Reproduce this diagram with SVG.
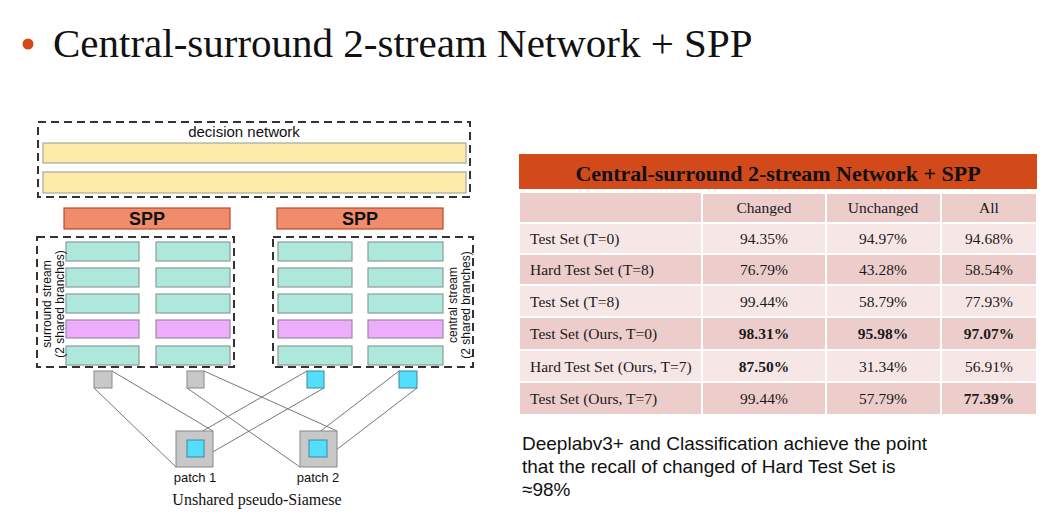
<svg xmlns="http://www.w3.org/2000/svg" width="1054" height="517" viewBox="0 0 1054 517">
  <style>
    .dash { fill: none; stroke: #333; stroke-width: 2; stroke-dasharray: 8 5; }
    .yel { fill: #FDEBA9; stroke: #A8A8A0; stroke-width: 1.2; }
    .spp { fill: #EF8C6B; stroke: #B84A26; stroke-width: 1.2; }
    .grn { fill: #AEE8DC; stroke: #8E9C98; stroke-width: 1.2; }
    .pur { fill: #EDADFC; stroke: #9A8AA0; stroke-width: 1.2; }
    .gry { fill: #C8C8C8; stroke: #888; stroke-width: 1; }
    .cyn { fill: #55DDFC; stroke: #3A8AA0; stroke-width: 1; }
    .sans { font-family: "Liberation Sans", Arial, sans-serif; fill: #111; }
    .serif { font-family: "Liberation Serif", "Times New Roman", serif; fill: #111; }
    .cap { font-size: 12px; }
    .link { stroke: #777; stroke-width: 1; fill: none; }
    .dk { fill: #EDCDCB; }
    .lt { fill: #F6E7E6; }
    .cell { font-family: "Liberation Serif", "Times New Roman", serif; font-size: 15.5px; fill: #1a1a1a; }
    .num { text-anchor: middle; }
    .b { font-weight: bold; }
  </style>

  <rect width="1054" height="517" fill="#ffffff"/>

  <!-- slide title -->
  <g id="title">
    <circle cx="28" cy="44" r="5.5" fill="#D24A1A"/>
    <text x="53" y="57" class="serif" font-size="41">Central-surround 2-stream Network + SPP</text>
  </g>

  <!-- decision network -->
  <g id="decision-network">
    <rect x="38" y="122" width="432" height="75" class="dash"/>
    <text x="244" y="137" class="sans" font-size="15" text-anchor="middle">decision network</text>
    <rect x="43" y="143" width="423" height="20" class="yel"/>
    <rect x="43" y="172" width="423" height="21" class="yel"/>
  </g>

  <!-- SPP layers -->
  <g id="spp-left">
    <rect x="64" y="208" width="166" height="21" class="spp"/>
    <text x="147" y="225" class="sans b" font-size="18" text-anchor="middle">SPP</text>
  </g>
  <g id="spp-right">
    <rect x="277" y="208" width="166" height="21" class="spp"/>
    <text x="360" y="225" class="sans b" font-size="18" text-anchor="middle">SPP</text>
  </g>

  <!-- surround stream -->
  <g id="surround-stream">
    <rect x="37" y="237" width="197" height="130" class="dash"/>
    <rect x="66" y="242" width="73" height="19" class="grn"/>
    <rect x="66" y="268" width="73" height="19" class="grn"/>
    <rect x="66" y="294" width="73" height="19" class="grn"/>
    <rect x="66" y="320" width="73" height="18" class="pur"/>
    <rect x="66" y="346" width="73" height="19" class="grn"/>
    <rect x="156" y="242" width="74" height="19" class="grn"/>
    <rect x="156" y="268" width="74" height="19" class="grn"/>
    <rect x="156" y="294" width="74" height="19" class="grn"/>
    <rect x="156" y="320" width="74" height="18" class="pur"/>
    <rect x="156" y="346" width="74" height="19" class="grn"/>
    <text transform="translate(51,304) rotate(-90)" class="sans cap" text-anchor="middle">surround stream</text>
    <text transform="translate(64,304) rotate(-90)" class="sans cap" text-anchor="middle">(2 shared branches)</text>
  </g>

  <!-- central stream -->
  <g id="central-stream">
    <rect x="273" y="237" width="200" height="130" class="dash"/>
    <rect x="278" y="242" width="74" height="19" class="grn"/>
    <rect x="278" y="268" width="74" height="19" class="grn"/>
    <rect x="278" y="294" width="74" height="19" class="grn"/>
    <rect x="278" y="320" width="74" height="18" class="pur"/>
    <rect x="278" y="346" width="74" height="19" class="grn"/>
    <rect x="368" y="242" width="75" height="19" class="grn"/>
    <rect x="368" y="268" width="75" height="19" class="grn"/>
    <rect x="368" y="294" width="75" height="19" class="grn"/>
    <rect x="368" y="320" width="75" height="18" class="pur"/>
    <rect x="368" y="346" width="75" height="19" class="grn"/>
    <text transform="translate(457,305) rotate(-90)" class="sans cap" text-anchor="middle">central stream</text>
    <text transform="translate(470,305) rotate(-90)" class="sans cap" text-anchor="middle">(2 shared branches)</text>
  </g>

  <!-- projections from patches to stream inputs -->
  <g id="connectors">
    <line x1="94" y1="388" x2="176" y2="467" class="link"/>
    <line x1="112" y1="371" x2="213" y2="431" class="link"/>
    <line x1="187" y1="388" x2="300" y2="467" class="link"/>
    <line x1="204" y1="371" x2="337" y2="431" class="link"/>
    <line x1="307" y1="371" x2="187" y2="440" class="link"/>
    <line x1="324" y1="388" x2="204" y2="457" class="link"/>
    <line x1="399" y1="371" x2="309" y2="440" class="link"/>
    <line x1="417" y1="388" x2="327" y2="457" class="link"/>
  </g>

  <!-- stream inputs -->
  <g id="input-surround-1"><rect x="94" y="371" width="18" height="17" class="gry"/></g>
  <g id="input-surround-2"><rect x="187" y="371" width="17" height="17" class="gry"/></g>
  <g id="input-central-1"><rect x="307" y="371" width="17" height="17" class="cyn"/></g>
  <g id="input-central-2"><rect x="399" y="371" width="18" height="17" class="cyn"/></g>

  <!-- patches -->
  <g id="patch-1">
    <rect x="176" y="431" width="37" height="36" class="gry"/>
    <rect x="187" y="440" width="17" height="17" class="cyn"/>
    <text x="195" y="482" class="sans" font-size="13" text-anchor="middle">patch 1</text>
  </g>
  <g id="patch-2">
    <rect x="300" y="431" width="37" height="36" class="gry"/>
    <rect x="309" y="440" width="18" height="17" class="cyn"/>
    <text x="318" y="482" class="sans" font-size="13" text-anchor="middle">patch 2</text>
  </g>
  <text x="257" y="505" class="serif" font-size="16" text-anchor="middle">Unshared pseudo-Siamese</text>

  <!-- results table -->
  <g id="results-table">
    <rect x="519" y="154" width="518" height="35" fill="#D24A1A"/>
    <text x="778" y="181" class="serif b" font-size="22" text-anchor="middle">Central-surround 2-stream Network + SPP</text>

    <g stroke="#ffffff" stroke-width="2">
      <rect x="519" y="192" width="183" height="31" class="dk"/>
      <rect x="702" y="193" width="124" height="30" class="dk"/>
      <rect x="826" y="193" width="115" height="30" class="dk"/>
      <rect x="941" y="193" width="96" height="30" class="dk"/>

      <rect x="519" y="223" width="183" height="31" class="lt"/>
      <rect x="702" y="223" width="124" height="31" class="lt"/>
      <rect x="826" y="223" width="115" height="31" class="lt"/>
      <rect x="941" y="223" width="96" height="31" class="lt"/>

      <rect x="519" y="254" width="183" height="31" class="dk"/>
      <rect x="702" y="254" width="124" height="31" class="dk"/>
      <rect x="826" y="254" width="115" height="31" class="dk"/>
      <rect x="941" y="254" width="96" height="31" class="dk"/>

      <rect x="519" y="285" width="183" height="32" class="lt"/>
      <rect x="702" y="285" width="124" height="32" class="lt"/>
      <rect x="826" y="285" width="115" height="32" class="lt"/>
      <rect x="941" y="285" width="96" height="32" class="lt"/>

      <rect x="519" y="317" width="183" height="33" class="dk"/>
      <rect x="702" y="317" width="124" height="33" class="dk"/>
      <rect x="826" y="317" width="115" height="33" class="dk"/>
      <rect x="941" y="317" width="96" height="33" class="dk"/>

      <rect x="519" y="350" width="183" height="32" class="lt"/>
      <rect x="702" y="350" width="124" height="32" class="lt"/>
      <rect x="826" y="350" width="115" height="32" class="lt"/>
      <rect x="941" y="350" width="96" height="32" class="lt"/>

      <rect x="519" y="382" width="183" height="33" class="dk"/>
      <rect x="702" y="382" width="124" height="33" class="dk"/>
      <rect x="826" y="382" width="115" height="33" class="dk"/>
      <rect x="941" y="382" width="96" height="33" class="dk"/>
    </g>

    <text x="764" y="213" class="cell num">Changed</text>
    <text x="883" y="213" class="cell num">Unchanged</text>
    <text x="989" y="213" class="cell num">All</text>

    <text x="530" y="244" class="cell">Test Set (T=0)</text>
    <text x="764" y="244" class="cell num">94.35%</text>
    <text x="883" y="244" class="cell num">94.97%</text>
    <text x="989" y="244" class="cell num">94.68%</text>

    <text x="530" y="275" class="cell">Hard Test Set (T=8)</text>
    <text x="764" y="275" class="cell num">76.79%</text>
    <text x="883" y="275" class="cell num">43.28%</text>
    <text x="989" y="275" class="cell num">58.54%</text>

    <text x="530" y="307" class="cell">Test Set (T=8)</text>
    <text x="764" y="307" class="cell num">99.44%</text>
    <text x="883" y="307" class="cell num">58.79%</text>
    <text x="989" y="307" class="cell num">77.93%</text>

    <text x="530" y="339" class="cell">Test Set (Ours, T=0)</text>
    <text x="764" y="339" class="cell num b">98.31%</text>
    <text x="883" y="339" class="cell num b">95.98%</text>
    <text x="989" y="339" class="cell num b">97.07%</text>

    <text x="530" y="372" class="cell">Hard Test Set (Ours, T=7)</text>
    <text x="764" y="372" class="cell num b">87.50%</text>
    <text x="883" y="372" class="cell num">31.34%</text>
    <text x="989" y="372" class="cell num">56.91%</text>

    <text x="530" y="404" class="cell">Test Set (Ours, T=7)</text>
    <text x="764" y="404" class="cell num">99.44%</text>
    <text x="883" y="404" class="cell num">57.79%</text>
    <text x="989" y="404" class="cell num b">77.39%</text>
  </g>

  <!-- note under the table -->
  <g id="note" class="sans" font-size="19">
    <text x="522" y="450">Deeplabv3+ and Classification achieve the point</text>
    <text x="522" y="473">that the recall of changed of Hard Test Set is</text>
    <text x="522" y="496">≈98%</text>
  </g>
</svg>
